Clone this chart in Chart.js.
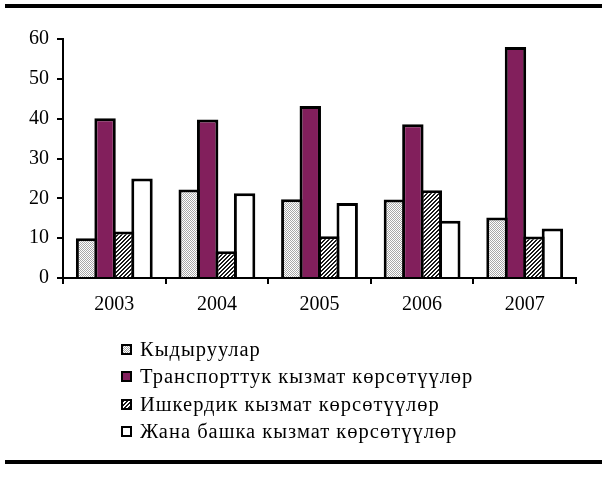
<!DOCTYPE html>
<html>
<head>
<meta charset="utf-8">
<script src="https://cdn.jsdelivr.net/npm/chart.js@4/dist/chart.umd.min.js"></script>
<style>
  html, body { margin:0; padding:0; background:#fff; }
  body { width:602px; height:497px; position:relative; overflow:hidden; font-family:'Liberation Serif','Times New Roman',serif; }
  .rule { position:absolute; left:5px; width:597px; height:4px; background:#000; }
  #wrap { position:absolute; left:0; top:0; width:602px; height:319px; }
  #legend { position:absolute; left:121px; top:336px; }
  .item { height:27.3px; display:flex; align-items:center; font-size:20.5px; letter-spacing:1px; color:#000; white-space:nowrap; font-family:'Liberation Serif','Times New Roman',serif; }
  .item canvas { width:11px; height:11px; margin-right:8px; }
</style>
</head>
<body>
<div class="rule" style="top:4px"></div>
<div id="wrap"><canvas id="c"></canvas></div>
<div id="legend"></div>
<div class="rule" style="top:460px"></div>
<script>
const categories = ['2003', '2004', '2005', '2006', '2007'];
const seriesNames = ['Кыдыруулар', 'Транспорттук кызмат көрсөтүүлөр', 'Ишкердик кызмат көрсөтүүлөр', 'Жана башка кызмат көрсөтүүлөр'];
const tourism   = [10.0, 22.2, 19.8, 19.7, 15.2];
const transport = [40.1, 39.8, 43.2, 38.6, 58.0];
const business  = [11.7, 6.7, 10.5, 22.0, 10.4];
const other     = [25.0, 21.3, 18.8, 14.4, 12.4];
const yTicks = [0, 10, 20, 30, 40, 50, 60];

const FONT = "'Liberation Serif','Times New Roman',serif";

function makeTile(kind) {
  const t = document.createElement('canvas');
  t.width = 4; t.height = 4;
  const g = t.getContext('2d');
  g.fillStyle = '#fff';
  g.fillRect(0, 0, 4, 4);
  if (kind === 'light') {
    g.fillStyle = '#a8a8a8';
    for (let i = 0; i < 4; i++) { g.fillRect(i, i, 1, 1); g.fillRect((i + 2) % 4, i, 1, 1); }
  } else if (kind === 'dark') {
    g.fillStyle = '#1a1a1a';
    for (let i = 0; i < 4; i++) { g.fillRect((3 - i + 4) % 4, i, 1, 1); g.fillRect((4 - i + 4) % 4, i, 1, 1); }
  }
  return t;
}
function makeFill(ctx, kind) {
  if (kind === 'light' || kind === 'dark') return ctx.createPattern(makeTile(kind), 'repeat');
  return kind;
}

const kinds = ['light', '#821f5c', 'dark', '#ffffff'];
const values = [tourism, transport, business, other];

const ctx = document.getElementById('c').getContext('2d');
const datasets = values.map((v, i) => ({
  label: seriesNames[i],
  data: v,
  backgroundColor: makeFill(ctx, kinds[i]),
  borderColor: '#000',
  borderWidth: 3,
  categoryPercentage: 0.72,
  barPercentage: 1.16
}));

new Chart(ctx, {
  type: 'bar',
  data: { labels: categories, datasets },
  options: {
    responsive: true,
    maintainAspectRatio: false,
    animation: false,
    layout: { padding: { top: 39, right: 26, left: 0, bottom: 0 } },
    plugins: { legend: { display: false }, tooltip: { enabled: false } },
    scales: {
      x: {
        grid: { display: true, drawOnChartArea: false, drawTicks: true, tickLength: 6, color: '#000', lineWidth: 2, offset: true },
        border: { display: true, color: '#000', width: 2 },
        ticks: { color: '#000', font: { family: FONT, size: 20 }, padding: 9 },
        afterFit: s => { s.height = 41; }
      },
      y: {
        min: 0, max: 60,
        afterBuildTicks: s => { s.ticks = yTicks.map(v => ({ value: v })); },
        grid: { display: true, drawOnChartArea: false, drawTicks: true, tickLength: 6, color: '#000', lineWidth: 2 },
        border: { display: true, color: '#000', width: 2 },
        ticks: { color: '#000', font: { family: FONT, size: 20 }, padding: 8 },
        afterFit: s => { s.width = 63; }
      }
    }
  }
});

const legend = document.getElementById('legend');
seriesNames.forEach((name, i) => {
  const row = document.createElement('div');
  row.className = 'item';
  const sw = document.createElement('canvas');
  sw.width = 11; sw.height = 11;
  const g = sw.getContext('2d');
  g.fillStyle = makeFill(g, kinds[i]);
  g.fillRect(0, 0, 11, 11);
  g.strokeStyle = '#000'; g.lineWidth = 2;
  g.strokeRect(1, 1, 9, 9);
  row.appendChild(sw);
  const span = document.createElement('span');
  span.textContent = name;
  row.appendChild(span);
  legend.appendChild(row);
});
</script>
</body>
</html>
